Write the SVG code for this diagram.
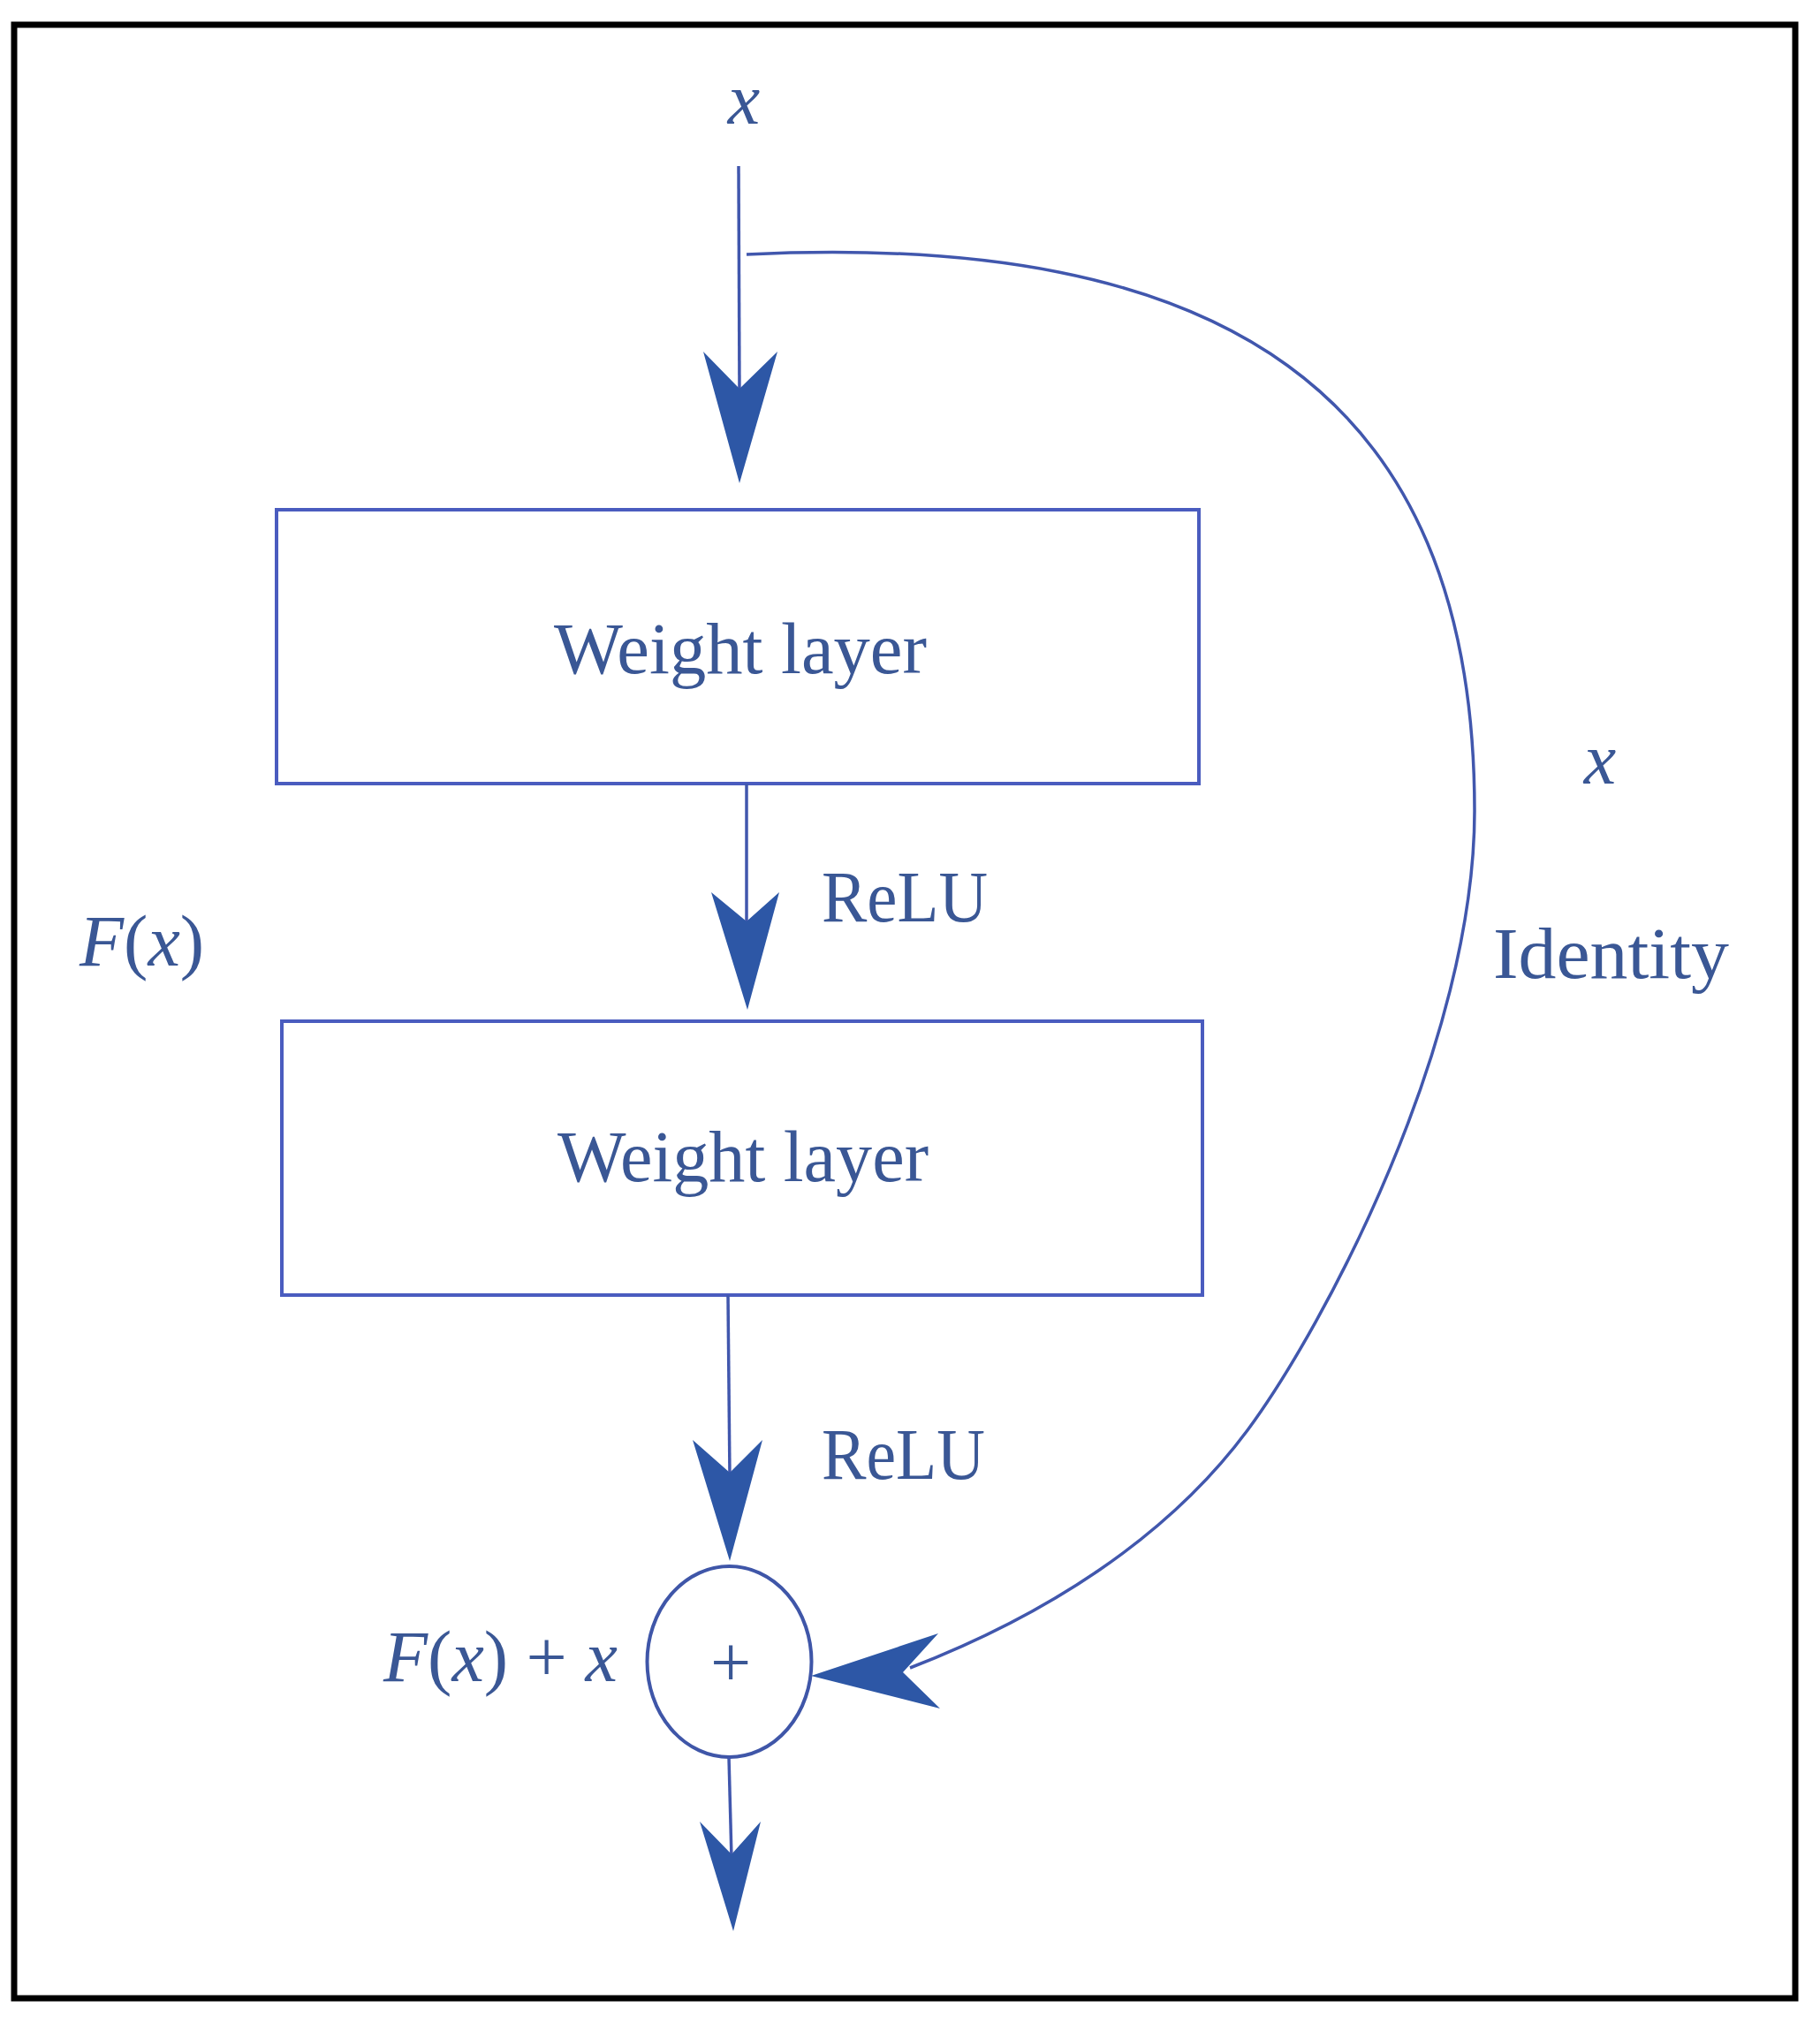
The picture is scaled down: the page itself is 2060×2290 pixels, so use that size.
<svg xmlns="http://www.w3.org/2000/svg" width="2060" height="2290" viewBox="0 0 2060 2290">
<style>
  .frame{fill:#ffffff;stroke:#000000;stroke-width:7}
  .box{fill:none;stroke:#4a5cbf;stroke-width:4}
  .sum{fill:none;stroke:#3f56a8;stroke-width:4}
  .line{fill:none;stroke:#4157ad;stroke-width:3.5}
  .head{fill:#2d57a6;stroke:none}
  .lbl{font-family:"Liberation Serif","Times New Roman",serif;font-size:82px;fill:#3a5795}
  .it{font-style:italic}
</style>
<rect class="frame" x="16" y="28" width="2016" height="2234"/>
<g id="node-input">
  <text class="lbl it" x="842" y="140" text-anchor="middle" font-size="86">x</text>
</g>
<g id="node-weight1">
  <rect class="box" x="313" y="577" width="1044" height="310"/>
  <text class="lbl" x="627" y="762" textLength="422" lengthAdjust="spacingAndGlyphs">Weight layer</text>
</g>
<g id="node-weight2">
  <rect class="box" x="319" y="1156" width="1042" height="310"/>
  <text class="lbl" x="631" y="1337" textLength="420" lengthAdjust="spacingAndGlyphs">Weight layer</text>
</g>
<g id="node-sum">
  <ellipse class="sum" cx="825.5" cy="1881" rx="93" ry="108"/>
  <text class="lbl" x="827" y="1909" text-anchor="middle" font-size="84">+</text>
</g>
<g id="labels">
  <text class="lbl" x="930" y="1043" textLength="188" lengthAdjust="spacingAndGlyphs">ReLU</text>
  <text class="lbl" x="930" y="1674" textLength="185" lengthAdjust="spacingAndGlyphs">ReLU</text>
  <text class="lbl" x="90" y="1093"><tspan class="it">F</tspan>(<tspan class="it">x</tspan>)</text>
  <text class="lbl" x="434" y="1903"><tspan class="it">F</tspan>(<tspan class="it">x</tspan>) + <tspan class="it">x</tspan></text>
  <text class="lbl it" x="1811" y="887" text-anchor="middle" font-size="86">x</text>
  <text class="lbl" x="1690" y="1107" textLength="267" lengthAdjust="spacingAndGlyphs">Identity</text>
</g>
<g id="connectors">
  <line class="line" x1="836" y1="188" x2="837" y2="445"/>
  <polygon class="head" points="837,547 796,398 837,440 880,398"/>
  <line class="line" x1="845" y1="887" x2="845" y2="1048"/>
  <polygon class="head" points="846,1143 805,1010 845,1043 882,1010"/>
  <line class="line" x1="824" y1="1466" x2="826" y2="1672"/>
  <polygon class="head" points="826,1767 784,1630 826,1667 863,1630"/>
  <line class="line" x1="825" y1="1989" x2="828" y2="2104"/>
  <polygon class="head" points="830,2186 792,2062 828,2099 861,2062"/>
  <path class="line" d="M845,288 C1380,262 1669,440 1669,918 C1669,1180 1500,1500 1412,1619 C1320,1743 1180,1830 1030,1888"/>
  <polygon class="head" points="918,1897 1062,1849 1022,1893 1064,1934"/>
</g>
</svg>
